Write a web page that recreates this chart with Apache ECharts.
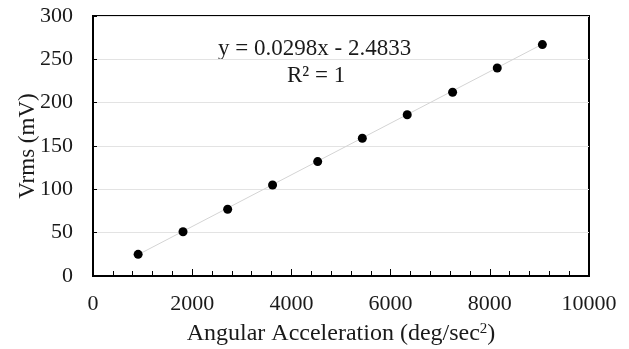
<!DOCTYPE html>
<html>
<head>
<meta charset="utf-8">
<script src="https://cdn.jsdelivr.net/npm/echarts@6/dist/echarts.min.js"></script>
<style>
  html, body { margin: 0; padding: 0; background: #fff; }
  #main { width: 629px; height: 349px; }
</style>
</head>
<body>
<div id="main"></div>
<script>
// data
const accel = [910, 1815, 2715, 3620, 4530, 5430, 6335, 7250, 8150, 9060];
const vrms = [25, 51, 77, 105, 132, 159, 186, 212, 240, 267];
const slope = 0.0298;
const intercept = -2.4833;
const eqText = "y = 0.0298x - 2.4833";
const r2Text = "R\u00B2 = 1";

const points = accel.map((x, i) => [x, vrms[i]]);
const xFirst = accel[0];
const xLast = accel[accel.length - 1];
const trend = [
  [xFirst, slope * xFirst + intercept],
  [xLast, slope * xLast + intercept],
];

const font = "Liberation Serif";
const txt = "#1a1a1a";
const chart = echarts.init(document.getElementById("main"));
const option = {
  animation: false,
  textStyle: { fontFamily: font },
  grid: {
    left: 93,
    right: 40,
    top: 16,
    bottom: 73,
    outerBoundsMode: "none",
    show: true,
    borderColor: "#000",
    borderWidth: 2,
  },
  xAxis: {
    type: "value",
    min: 0,
    max: 10000,
    interval: 2000,
    name: "{n|Angular Acceleration (deg/sec}{s|2}{n|)}",
    nameLocation: "middle",
    nameGap: 46,
    nameTextStyle: {
      fontSize: 24,
      color: txt,
      fontFamily: font,
      rich: {
        n: { fontSize: 24, fontFamily: font, color: txt },
        s: { fontSize: 15, fontFamily: font, color: txt, verticalAlign: "top", padding: [0, 0, 8, 0] },
      },
    },
    axisLine: { lineStyle: { color: "#000", width: 2 } },
    axisTick: { inside: true, length: 7, lineStyle: { color: "#000" } },
    minorTick: { show: true, splitNumber: 5, length: 5, lineStyle: { color: "#000" } },
    axisLabel: {
      fontSize: 22,
      color: txt,
      margin: 17,
      fontFamily: font,
      formatter: (v) => String(v),
    },
    splitLine: { show: false },
  },
  yAxis: {
    type: "value",
    min: 0,
    max: 300,
    interval: 50,
    name: "Vrms (mV)",
    nameLocation: "middle",
    nameGap: 54,
    nameMoveOverlap: false,
    nameTextStyle: { fontSize: 23, color: txt, fontFamily: font },
    axisLine: { show: true, lineStyle: { color: "#000", width: 2 } },
    axisTick: { show: true, inside: true, length: 4, lineStyle: { color: "#000" } },
    axisLabel: { fontSize: 22, color: txt, margin: 20, fontFamily: font },
    splitLine: { show: true, lineStyle: { color: "#e3e3e3", width: 1 } },
  },
  series: [
    {
      name: "trend",
      type: "line",
      data: trend,
      symbol: "none",
      lineStyle: { color: "#d4d4d4", width: 1 },
      z: 1,
    },
    {
      name: "Vrms",
      type: "scatter",
      data: points,
      symbol: "circle",
      symbolSize: 9,
      itemStyle: { color: "#000", opacity: 1 },
      z: 3,
    },
  ],
  graphic: [
    {
      type: "text",
      left: 218,
      top: 37,
      style: { text: eqText, fontSize: 23, fontFamily: font, fill: txt },
    },
    {
      type: "text",
      left: 287,
      top: 64,
      style: { text: r2Text, fontSize: 23, fontFamily: font, fill: txt },
    },
  ],
};
chart.setOption(option);
</script>
</body>
</html>
